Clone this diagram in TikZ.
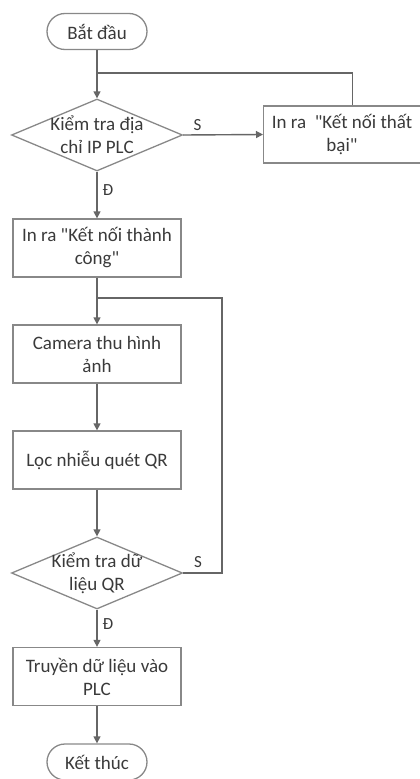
\documentclass[tikz,border=0pt]{standalone}
\usepackage{fontspec}
\setmainfont{Carlito}[Ligatures=TeXOff]
\usetikzlibrary{shapes.geometric,arrows.meta,calc}
\definecolor{txtc}{HTML}{3A3A3A}
\definecolor{linec}{HTML}{666666}
\definecolor{boxc}{HTML}{888888}
\begin{document}
\begin{tikzpicture}[x=1pt,y=-1pt,
  font=\fontsize{19}{23}\selectfont, text=txtc,
  procbox/.style={draw=boxc, line width=1.3pt, rectangle, minimum width=168pt, minimum height=58pt, inner sep=0pt, align=center},
  termbox/.style={draw=boxc, line width=1.3pt, rounded corners=18pt, minimum width=100pt, minimum height=36pt, inner sep=0pt},
  decbox/.style={draw=boxc, line width=1.3pt, shape=diamond, aspect=2.375, minimum width=171pt, minimum height=72pt, inner sep=0pt},
  dectext/.style={align=center, inner sep=0pt},
  flow/.style={draw=linec, line width=1.4pt, -{Triangle[width=7pt,length=7pt]}},
  plain/.style={draw=linec, line width=1.4pt},
  lbl/.style={inner sep=0pt, font=\fontsize{17}{20}\selectfont}
]
\useasboundingbox (0,0) rectangle (420,779);
\node[termbox] (start) at (97,31.5) {Bắt đầu};
\node[decbox] (d1) at (97,135) {};
\node[dectext] (d1t) at (97,135) {Kiểm tra địa\\chỉ IP PLC};
\node[procbox, minimum width=170pt, minimum height=57pt, anchor=west] (fail) at (263,134.5) {};
\node[align=center, inner sep=0pt] (failt) at (342,134.5) {In ra\ \ "Kết nối thất\\bại"};
\node[procbox] (ok) at (97,248) {In ra "Kết nối thành\\công"};
\node[procbox] (cam) at (97,354) {Camera thu hình\\ảnh};
\node[procbox] (loc) at (97,460) {Lọc nhiễu quét QR};
\node[decbox] (d2) at (97,573) {};
\node[dectext] (d2t) at (97,573) {Kiểm tra dữ\\liệu QR};
\node[procbox] (send) at (97,676.5) {Truyền dữ liệu vào\\PLC};
\node[termbox] (end) at (97,762) {Kết thúc};
\coordinate (j1) at (97,73);
\coordinate (j2) at (97,298);
\coordinate (r2) at (222,298);
% connectors
\draw[flow] (start) -- (d1);
\draw[plain] ([xshift=4pt]fail.north) |- (j1);
\draw[flow] (d1.east) -- node[lbl, above=4pt, pos=0.18] (s1) {S} (fail.west);
\draw[flow] (d1.south) -- node[lbl, right=5pt, pos=0.4] (e1) {Đ} (ok.north);
\draw[flow] (ok) -- (cam);
\draw[flow] (cam) -- (loc);
\draw[flow] (loc) -- (d2);
\draw[plain] (d2.east) -- node[lbl, above=5pt, pos=0.38] (s2) {S} (d2.east -| r2) -- (r2) -- (j2);
\draw[flow] (d2.south) -- node[lbl, right=5pt, pos=0.4] (e2) {Đ} (send.north);
\draw[flow] (send) -- (end);
\end{tikzpicture}
\end{document}
